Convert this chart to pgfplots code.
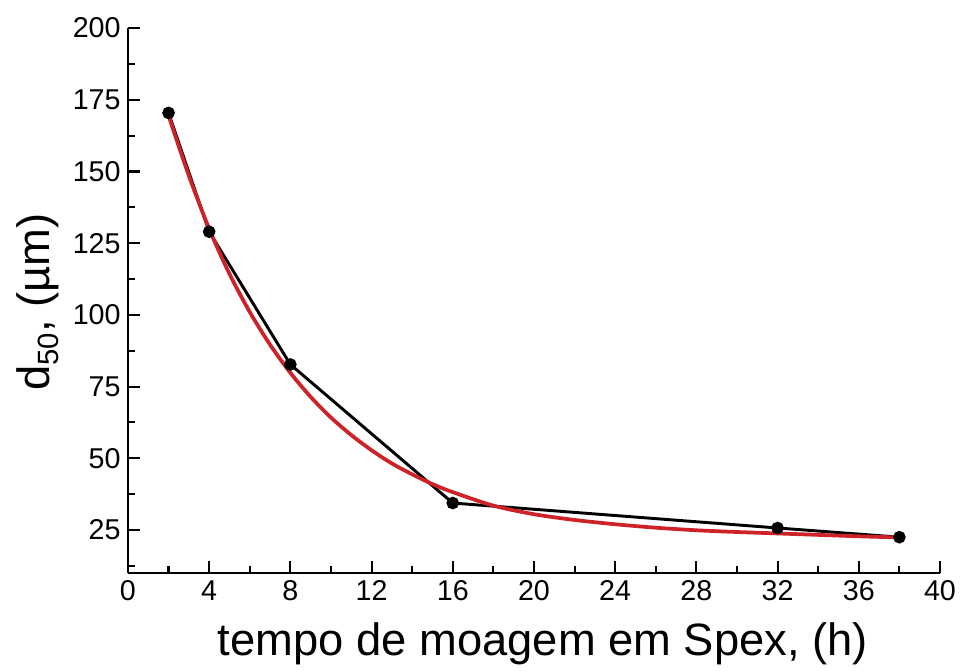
\documentclass[border=0pt]{standalone}
\usepackage{pgfplots}
\pgfplotsset{compat=1.18}
\usetikzlibrary{calc}
\usepackage{fontspec}
\setmainfont{Liberation Sans}
\definecolor{fitred}{RGB}{205,35,40}
\begin{document}
\begin{tikzpicture}
\begin{axis}[
  scale only axis,
  width=609pt, height=408.75pt,
  xmin=0, xmax=40, ymin=10, ymax=200,
  axis x line*=bottom, axis y line*=left,
  axis line style={line width=1.8pt, -},
  xtick={0,4,...,40}, minor xtick={2,6,...,38},
  ytick={25,50,...,200}, minor ytick={12.5,37.5,...,187.5},
  tick align=inside,
  major tick length=9pt, minor tick length=5pt,
  every tick/.style={line width=1.6pt, black},
  /pgf/number format/assume math mode=true,
  tick label style={font=\fontsize{21.5}{21.5}\selectfont},
  yticklabel style={xshift=-2pt},
  xticklabel style={yshift=-2pt},
  xlabel={tempo de moagem em Spex, (h)},
  ylabel={d\raisebox{-0.35ex}{\fontsize{22}{22}\selectfont 50}, (µm)},
  xlabel style={at={($(axis description cs:0.511,0)+(0,-61.5pt)$)}, anchor=base, font=\fontsize{34}{34}\selectfont},
  ylabel style={at={($(axis description cs:0,0.497)+(-58.5pt,0)$)}, anchor=base, font=\fontsize{34}{34}\selectfont},
  clip=false,
]
\path (axis description cs:-0.1576,-0.178) rectangle (axis description cs:1.0259,1.0514);
\addplot[black, line width=2.2pt, mark=*, mark size=3.6pt] coordinates {
  (2,170.4) (4,129) (8,82.7) (16,34.4) (32,25.7) (38,22.5)
};
\addplot[fitred, line width=2.8pt, smooth] coordinates {
  (2,169.5) (3,148.5) (4,130.0) (5,114.3) (6,101.0) (7,89.6) (8,79.8)
  (9,71.4) (10,64.2) (11,58.1) (12,52.8) (13,48.2) (14,44.4) (15,41.0)
  (16,38.2) (18,33.5) (20,30.5) (22,28.5) (24,27.0) (26,25.8) (28,24.9)
  (30,24.3) (32,23.8) (34,23.3) (36,22.8) (38,22.4)
};
\addplot[only marks, black, mark=*, mark size=3.6pt] coordinates {
  (2,170.4) (4,129) (8,82.7) (16,34.4) (32,25.7) (38,22.5)
};
\end{axis}
\end{tikzpicture}
\end{document}
